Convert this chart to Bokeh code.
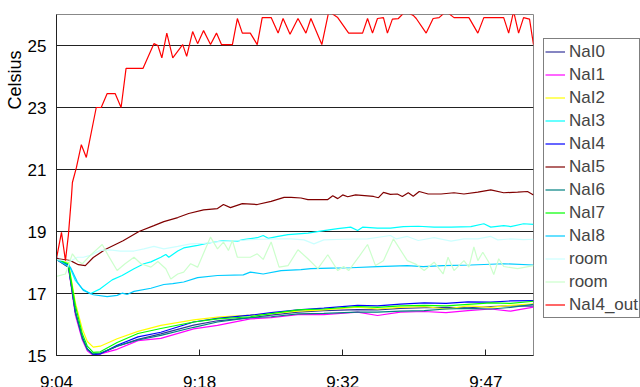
from bokeh.plotting import figure
from bokeh.models import Legend, LegendItem, FixedTicker, Range1d, Title
from bokeh.layouts import row
from bokeh.embed import file_html
from bokeh.resources import INLINE

# x values are minutes after 9:04 ; y values in Celsius
tick_minutes = [0, 14.4, 28.8, 43.2]
tick_labels = ["9:04", "9:18", "9:32", "9:47"]
y_ticks = [15, 17, 19, 21, 23, 25]

t_low = [0, 1.2, 1.9, 2.6, 3.1, 3.7, 4.4, 6.1, 8.2, 10.5, 13.8, 16.2, 19.5, 21.6,
         24.3, 26.9, 30.3, 32.3, 34.6, 37.0, 39.2, 41.4, 43.7, 45.7, 48.0]
nai0 = [18.15, 17.9, 16.4, 15.55, 15.2, 15.03, 15.05, 15.3, 15.52, 15.7, 15.98, 16.12, 16.22, 16.3,
        16.4, 16.45, 16.48, 16.47, 16.52, 16.54, 16.55, 16.54, 16.58, 16.6, 16.59]
nai1 = [18.1, 17.85, 16.3, 15.5, 15.15, 15.0, 15.05, 15.2, 15.48, 15.55, 15.86, 15.97, 16.18, 16.22,
        16.32, 16.32, 16.4, 16.29, 16.4, 16.42, 16.38, 16.45, 16.5, 16.43, 16.56]
nai2 = [18.1, 18.0, 16.7, 15.85, 15.45, 15.27, 15.3, 15.54, 15.78, 15.97, 16.15, 16.24, 16.3, 16.35,
        16.43, 16.47, 16.56, 16.5, 16.55, 16.58, 16.5, 16.6, 16.55, 16.62, 16.67]
nai4 = [18.12, 17.9, 16.4, 15.6, 15.2, 15.03, 15.05, 15.33, 15.6, 15.75, 16.08, 16.2, 16.3, 16.38,
        16.47, 16.53, 16.62, 16.6, 16.66, 16.7, 16.68, 16.73, 16.72, 16.76, 16.77]
nai6 = [18.1, 17.85, 16.4, 15.55, 15.2, 15.05, 15.08, 15.3, 15.5, 15.65, 15.91, 16.08, 16.22, 16.25,
        16.34, 16.36, 16.4, 16.4, 16.43, 16.45, 16.5, 16.52, 16.5, 16.55, 16.65]
nai7 = [18.1, 17.95, 16.6, 15.7, 15.3, 15.1, 15.12, 15.42, 15.71, 15.87, 16.08, 16.18, 16.25, 16.35,
        16.47, 16.5, 16.58, 16.55, 16.6, 16.62, 16.6, 16.65, 16.7, 16.68, 16.75]

t_nai3 = [0, 1.2, 1.9, 2.6, 3.4, 4.4, 5.6, 6.6, 7.8, 8.8, 9.5, 10.5, 11.0, 11.3, 12.2, 12.8, 14.2,
          15.2, 16.8, 18.2, 18.8, 20.2, 20.8, 21.3, 22.3, 23.3, 25.3, 26.9, 28.3, 29.6, 30.3, 30.8,
          32.3, 33.6, 34.9, 36.4, 38.0, 39.7, 41.7, 43.0, 43.7, 45.0, 45.7, 47.0, 48.0]
nai3 = [18.1, 17.96, 17.42, 17.15, 16.99, 17.15, 17.44, 17.58, 17.8, 17.96, 18.02, 18.17, 18.26, 18.17,
        18.37, 18.47, 18.55, 18.62, 18.71, 18.69, 18.74, 18.8, 18.87, 18.78, 18.84, 18.9, 18.95, 19.03,
        19.09, 19.14, 19.03, 19.14, 19.11, 19.11, 19.16, 19.17, 19.14, 19.14, 19.16, 19.25, 19.14,
        19.19, 19.16, 19.25, 19.23]

t_nai5 = [0, 1.4, 2.2, 2.9, 3.7, 4.9, 6.7, 8.3, 9.8, 10.8, 12.2, 13.3, 14.8, 16.2, 16.8, 17.5, 18.7,
          20.2, 21.6, 22.9, 23.6, 24.6, 25.3, 27.3, 27.8, 28.3, 28.8, 29.3, 30.1, 31.9, 32.4, 32.9,
          33.6, 34.3, 34.8, 35.4, 35.9, 36.5, 37.4, 38.7, 40.0, 41.0, 42.4, 43.7, 45.0, 46.4, 47.4, 48.0]
nai5 = [18.13, 18.06, 17.93, 17.9, 18.16, 18.42, 18.7, 19.0, 19.19, 19.32, 19.45, 19.58, 19.7, 19.74,
        19.87, 19.77, 19.9, 19.87, 19.97, 20.1, 20.1, 20.08, 20.03, 20.03, 20.15, 20.06, 20.18, 20.12,
        20.18, 20.13, 20.09, 20.26, 20.2, 20.21, 20.13, 20.25, 20.14, 20.29, 20.21, 20.21, 20.25,
        20.21, 20.27, 20.34, 20.25, 20.27, 20.29, 20.18]

t_nai8 = [0, 1.4, 2.1, 2.7, 3.7, 5.1, 6.1, 6.6, 7.1, 7.8, 9.5, 10.8, 11.7, 12.8, 14.2, 16.2, 18.8,
          19.5, 20.8, 22.6, 24.6, 25.6, 27.6, 29.6, 32.3, 35.3, 36.9, 38.9, 41.7, 45.0, 48.0]
nai8 = [18.1, 17.85, 17.37, 17.1, 16.96, 16.9, 16.94, 17.01, 16.97, 17.07, 17.17, 17.29, 17.32, 17.37,
        17.51, 17.58, 17.6, 17.69, 17.63, 17.74, 17.77, 17.8, 17.82, 17.83, 17.87, 17.9, 17.87, 17.9,
        17.92, 17.96, 17.92]

t_room1 = [0, 1.4, 2.1, 2.7, 3.4, 4.4, 5.4, 6.4, 7.8, 8.8, 9.8, 10.8, 12.2, 13.5, 14.8, 16.8, 18.5,
           19.5, 20.8, 22.3, 23.6, 24.9, 25.9, 26.9, 28.9, 31.3, 33.6, 34.2, 35.3, 36.4, 38.0, 39.7,
           41.0, 42.4, 43.7, 44.4, 45.7, 47.0, 48.0]
room1 = [18.09, 18.04, 18.17, 18.17, 18.23, 18.39, 18.41, 18.37, 18.37, 18.44, 18.52, 18.44, 18.52,
         18.6, 18.62, 18.69, 18.71, 18.74, 18.75, 18.76, 18.76, 18.73, 18.6, 18.73, 18.75, 18.76,
         18.87, 18.76, 18.84, 18.71, 18.8, 18.69, 18.76, 18.76, 18.84, 18.73, 18.76, 18.74, 18.75]

t_room2 = [0, 0.9, 1.6, 2.1, 2.6, 3.4, 4.6, 5.2, 6.1, 6.9, 7.8, 8.5, 9.5, 10.2, 11.0, 11.5, 12.2,
           12.8, 13.5, 14.2, 15.5, 16.2, 16.8, 17.3, 17.7, 18.2, 19.5, 20.2, 20.8, 21.6, 22.4, 23.3,
           24.3, 25.3, 26.3, 27.3, 28.3, 28.9, 29.4, 30.4, 31.3, 32.1, 32.9, 33.9, 35.3, 36.2, 37.0,
           38.0, 38.9, 39.4, 40.0, 41.0, 41.5, 42.0, 42.4, 42.9, 43.5, 44.0, 44.5, 45.0, 46.4, 48.0]
room2 = [17.55, 17.63, 18.28, 18.06, 17.96, 18.23, 18.58, 18.23, 17.74, 17.96, 18.17, 17.96, 17.85,
         18.03, 17.8, 17.47, 17.63, 17.69, 17.96, 17.85, 18.82, 18.44, 18.66, 18.39, 18.71, 18.17,
         18.17, 18.28, 18.1, 18.66, 17.85, 17.9, 18.41, 18.12, 17.8, 18.25, 17.74, 17.87, 17.74,
         18.17, 18.58, 17.9, 18.06, 18.76, 18.06, 17.94, 17.74, 18.01, 17.63, 18.17, 17.74, 18.06,
         17.85, 18.5, 18.06, 18.33, 18.01, 17.61, 18.12, 17.87, 17.8, 17.9]

t_out = [0, 0.5, 0.9, 1.2, 1.5, 1.6, 2.0, 2.5, 3.0, 4.0, 4.5, 5.1, 5.9, 6.5, 7.0, 8.7, 9.8, 10.2,
         10.6, 11.1, 11.7, 12.7, 13.1, 13.7, 14.2, 14.8, 15.5, 16.1, 16.6, 17.7, 18.2, 18.7, 19.5,
         20.2, 20.7, 21.6, 22.3, 22.8, 23.5, 24.3, 25.1, 25.6, 26.7, 27.4, 28.3, 29.4, 30.8, 31.3,
         31.8, 32.3, 32.9, 33.3, 33.8, 34.4, 35.1, 35.9, 36.2, 37.2, 37.9, 38.5, 39.2, 40.0, 41.5,
         42.4, 43.0, 45.0, 45.5, 46.0, 46.5, 47.0, 47.6, 48.0]
nai4_out = [18.13, 18.97, 18.06, 18.9, 20.1, 20.58, 21.06, 21.8, 21.39, 23.0, 23.0, 23.45, 23.45,
            23.0, 24.26, 24.26, 25.06, 25.0, 24.6, 25.4, 24.6, 25.03, 24.65, 25.45, 25.06, 25.48,
            25.03, 25.4, 25.03, 25.03, 25.87, 25.4, 25.4, 25.03, 25.9, 25.9, 25.4, 25.87, 25.36,
            25.87, 25.4, 25.87, 25.03, 26.1, 25.9, 25.4, 25.4, 25.87, 25.4, 25.87, 25.9, 25.4, 25.85,
            25.87, 26.1, 25.97, 25.87, 25.4, 25.87, 25.9, 26.1, 25.9, 25.9, 25.4, 25.9, 25.9, 25.4,
            26.1, 25.4, 25.9, 25.85, 25.03]

series = [
    ("NaI0", t_low, nai0, "#333399"),
    ("NaI1", t_low, nai1, "#FF00FF"),
    ("NaI2", t_low, nai2, "#FFFF00"),
    ("NaI3", t_nai3, nai3, "#00FFFF"),
    ("NaI4", t_low, nai4, "#0000FF"),
    ("NaI5", t_nai5, nai5, "#800000"),
    ("NaI6", t_low, nai6, "#008080"),
    ("NaI7", t_low, nai7, "#00FF00"),
    ("NaI8", t_nai8, nai8, "#00CCFF"),
    ("room", t_room1, room1, "#CCFFFF"),
    ("room", t_room2, room2, "#CCFFCC"),
    ("NaI4_out", t_out, nai4_out, "#FF0000"),
]

FONT = "Liberation Sans"
H = 395

p = figure(width=538, height=H, output_backend="svg", toolbar_location=None,
           x_range=Range1d(0, 48), y_range=Range1d(15, 26),
           min_border_left=56, min_border_right=5, min_border_top=14, min_border_bottom=40)
p.background_fill_color = "white"
p.border_fill_color = "white"
p.outline_line_color = "#888888"
p.outline_line_width = 1

for name, xs, ys, col in series:
    p.line(xs, ys, line_color=col, line_width=1.2)

p.xaxis.ticker = FixedTicker(ticks=tick_minutes)
p.xaxis.major_label_overrides = {t: l for t, l in zip(tick_minutes, tick_labels)}
p.yaxis.ticker = FixedTicker(ticks=y_ticks)
for ax in (p.xaxis, p.yaxis):
    ax.major_tick_in = 6
    ax.major_tick_out = 0
    ax.minor_tick_in = 0
    ax.minor_tick_out = 0
    ax.axis_line_color = "#222222"
    ax.major_tick_line_color = "#222222"
    ax.major_label_text_font = FONT
    ax.major_label_text_font_size = "17px"
    ax.major_label_text_color = "black"
p.xaxis.major_label_standoff = 17
p.yaxis.major_label_standoff = 10

p.xgrid.grid_line_color = None
p.ygrid.grid_line_color = "#222222"
p.ygrid.grid_line_width = 1

ytitle = Title(text="Celsius", align="right", offset=36, text_font=FONT,
               text_font_size="18px", text_font_style="normal", text_color="black",
               standoff=0)
p.add_layout(ytitle, "left")

# legend panel as its own small figure at the right of the chart
# (its ranges keep the series' own lines out of view; only the legend shows)
pl = figure(width=102, height=H, output_backend="svg", toolbar_location=None,
            x_range=Range1d(0, 1), y_range=Range1d(0, 1),
            x_axis_location=None, y_axis_location=None,
            min_border_left=0, min_border_right=0, min_border_top=0, min_border_bottom=0)
pl.outline_line_color = None
pl.xgrid.grid_line_color = None
pl.ygrid.grid_line_color = None
pl.background_fill_color = "white"
pl.border_fill_color = "white"

items = []
for name, xs, ys, col in series:
    r = pl.line(xs, ys, line_color=col, line_width=1.2)
    items.append(LegendItem(label=name, renderers=[r]))

legend = Legend(items=items, location=(5, 37), orientation="vertical",
                label_text_font=FONT, label_text_font_size="17px",
                glyph_width=20, glyph_height=23, label_height=23, spacing=0,
                padding=1, margin=0, label_standoff=4,
                border_line_color="black", border_line_width=1,
                background_fill_color="white", background_fill_alpha=1.0)
pl.add_layout(legend)

layout = row(p, pl, spacing=0)
open("out.html", "w").write(file_html(layout, INLINE))
